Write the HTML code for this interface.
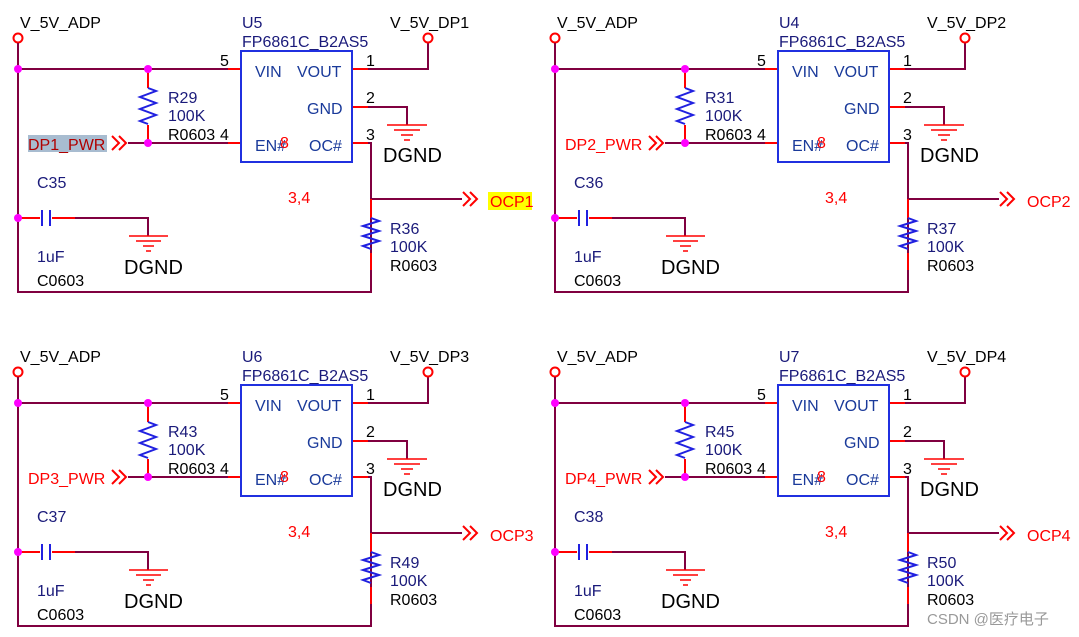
<!DOCTYPE html>
<html><head><meta charset="utf-8"><style>
body{margin:0;background:#fff;width:1079px;height:637px;overflow:hidden}
svg{display:block}
text{font-family:"Liberation Sans",sans-serif;font-size:16px}
.k{fill:#000}.b{fill:#1a1a7a}.r{fill:#f00}.bl{fill:#1a3a9a}
.big{font-size:20px;fill:#000}
</style></head><body>
<svg width="1079" height="637" viewBox="0 0 1079 637" xmlns="http://www.w3.org/2000/svg">
<defs>
<g id="blk" fill="none" stroke-width="2">
 <circle cx="18" cy="38" r="4.5" stroke="#f00"/>
 <path d="M18 43V292H371V143H365M18 69H228M148 69V88M148 125V143M128 143H228M75 218H148V236M352 69H428V43M352 107H407V125M371 199H462" stroke="#800040"/>
 <path d="M228 69H241M228 143H241M148 69V88M148 125V143M18 218H40M52 218H75M352 69H368M352 107H368M352 143H368M371 199V218M371 253V270" stroke="#f00"/>
 <circle cx="428" cy="38" r="4.5" stroke="#f00"/>
 <path d="M148 88l8 3-16 6 16 6-16 6 16 6-16 6 8 3M371 218l8 3-16 5 16 5-16 5 16 5-16 5 8 3" stroke="#2020e0"/>
 <path d="M42 210V226M50 210V226" stroke="#2020e0"/>
 <rect x="241" y="51" width="111" height="111" stroke="#2030e0"/>
 <path d="M387 125H427M394 130H420M401 135H413M404 140H410M129 236H168M136 241H161M143 246H154M146 251H151" stroke="#f00" stroke-width="1.5"/>
 <path d="M112 136l7 7-7 7M119 136l7 7-7 7M463 192l7 7-7 7M470 192l7 7-7 7" stroke="#f00"/>
 <g fill="#f0f" stroke="none"><circle cx="18" cy="69" r="4"/><circle cx="148" cy="69" r="4"/><circle cx="148" cy="143" r="4"/><circle cx="18" cy="218" r="4"/></g>
</g>
</defs>
<use href="#blk" x="0" y="0"/><use href="#blk" x="537" y="0"/>
<use href="#blk" x="0" y="334"/><use href="#blk" x="537" y="334"/>

<rect x="28" y="135" width="79" height="17" fill="#a8bcd0"/>
<rect x="488" y="192" width="44" height="18" fill="#ff0"/>

<g>
<text x="20" y="28" class="k">V_5V_ADP</text><text x="242" y="28" class="b">U5</text><text x="242" y="47" class="b">FP6861C_B2AS5</text><text x="390" y="28" class="k">V_5V_DP1</text>
<text x="220" y="66" class="k">5</text><text x="366" y="66" class="k">1</text><text x="366" y="103" class="k">2</text><text x="366" y="140" class="k">3</text><text x="220" y="140" class="k">4</text>
<text x="255" y="77" class="bl">VIN</text><text x="297" y="77" class="bl">VOUT</text><text x="307" y="114" class="bl">GND</text><text x="255" y="151" class="bl">EN#</text><text x="309" y="151" class="bl">OC#</text><text x="280" y="148" class="r" font-size="14">8</text>
<text x="168" y="103" class="b">R29</text><text x="168" y="121" class="b">100K</text><text x="168" y="140" class="k">R0603</text>
<text x="28" y="150" fill="#b00000">DP1_PWR</text>
<text x="383" y="162" class="big">DGND</text><text x="124" y="274" class="big">DGND</text>
<text x="37" y="188" class="b">C35</text><text x="37" y="262" class="b">1uF</text><text x="37" y="286" class="k">C0603</text>
<text x="288" y="203" class="r">3,4</text><text x="490" y="207" class="r">OCP1</text>
<text x="390" y="234" class="b">R36</text><text x="390" y="252" class="b">100K</text><text x="390" y="271" class="k">R0603</text>
</g>
<g transform="translate(537,0)">
<text x="20" y="28" class="k">V_5V_ADP</text><text x="242" y="28" class="b">U4</text><text x="242" y="47" class="b">FP6861C_B2AS5</text><text x="390" y="28" class="k">V_5V_DP2</text>
<text x="220" y="66" class="k">5</text><text x="366" y="66" class="k">1</text><text x="366" y="103" class="k">2</text><text x="366" y="140" class="k">3</text><text x="220" y="140" class="k">4</text>
<text x="255" y="77" class="bl">VIN</text><text x="297" y="77" class="bl">VOUT</text><text x="307" y="114" class="bl">GND</text><text x="255" y="151" class="bl">EN#</text><text x="309" y="151" class="bl">OC#</text><text x="280" y="148" class="r" font-size="14">8</text>
<text x="168" y="103" class="b">R31</text><text x="168" y="121" class="b">100K</text><text x="168" y="140" class="k">R0603</text>
<text x="28" y="150" class="r">DP2_PWR</text>
<text x="383" y="162" class="big">DGND</text><text x="124" y="274" class="big">DGND</text>
<text x="37" y="188" class="b">C36</text><text x="37" y="262" class="b">1uF</text><text x="37" y="286" class="k">C0603</text>
<text x="288" y="203" class="r">3,4</text><text x="490" y="207" class="r">OCP2</text>
<text x="390" y="234" class="b">R37</text><text x="390" y="252" class="b">100K</text><text x="390" y="271" class="k">R0603</text>
</g>
<g transform="translate(0,334)">
<text x="20" y="28" class="k">V_5V_ADP</text><text x="242" y="28" class="b">U6</text><text x="242" y="47" class="b">FP6861C_B2AS5</text><text x="390" y="28" class="k">V_5V_DP3</text>
<text x="220" y="66" class="k">5</text><text x="366" y="66" class="k">1</text><text x="366" y="103" class="k">2</text><text x="366" y="140" class="k">3</text><text x="220" y="140" class="k">4</text>
<text x="255" y="77" class="bl">VIN</text><text x="297" y="77" class="bl">VOUT</text><text x="307" y="114" class="bl">GND</text><text x="255" y="151" class="bl">EN#</text><text x="309" y="151" class="bl">OC#</text><text x="280" y="148" class="r" font-size="14">8</text>
<text x="168" y="103" class="b">R43</text><text x="168" y="121" class="b">100K</text><text x="168" y="140" class="k">R0603</text>
<text x="28" y="150" class="r">DP3_PWR</text>
<text x="383" y="162" class="big">DGND</text><text x="124" y="274" class="big">DGND</text>
<text x="37" y="188" class="b">C37</text><text x="37" y="262" class="b">1uF</text><text x="37" y="286" class="k">C0603</text>
<text x="288" y="203" class="r">3,4</text><text x="490" y="207" class="r">OCP3</text>
<text x="390" y="234" class="b">R49</text><text x="390" y="252" class="b">100K</text><text x="390" y="271" class="k">R0603</text>
</g>
<g transform="translate(537,334)">
<text x="20" y="28" class="k">V_5V_ADP</text><text x="242" y="28" class="b">U7</text><text x="242" y="47" class="b">FP6861C_B2AS5</text><text x="390" y="28" class="k">V_5V_DP4</text>
<text x="220" y="66" class="k">5</text><text x="366" y="66" class="k">1</text><text x="366" y="103" class="k">2</text><text x="366" y="140" class="k">3</text><text x="220" y="140" class="k">4</text>
<text x="255" y="77" class="bl">VIN</text><text x="297" y="77" class="bl">VOUT</text><text x="307" y="114" class="bl">GND</text><text x="255" y="151" class="bl">EN#</text><text x="309" y="151" class="bl">OC#</text><text x="280" y="148" class="r" font-size="14">8</text>
<text x="168" y="103" class="b">R45</text><text x="168" y="121" class="b">100K</text><text x="168" y="140" class="k">R0603</text>
<text x="28" y="150" class="r">DP4_PWR</text>
<text x="383" y="162" class="big">DGND</text><text x="124" y="274" class="big">DGND</text>
<text x="37" y="188" class="b">C38</text><text x="37" y="262" class="b">1uF</text><text x="37" y="286" class="k">C0603</text>
<text x="288" y="203" class="r">3,4</text><text x="490" y="207" class="r">OCP4</text>
<text x="390" y="234" class="b">R50</text><text x="390" y="252" class="b">100K</text><text x="390" y="271" class="k">R0603</text>
</g>
<text x="927" y="624" fill="#999" style="font-family:'Liberation Sans','Noto Sans CJK SC',sans-serif;font-size:15px">CSDN @医疗电子</text>
</svg>
</body></html>
